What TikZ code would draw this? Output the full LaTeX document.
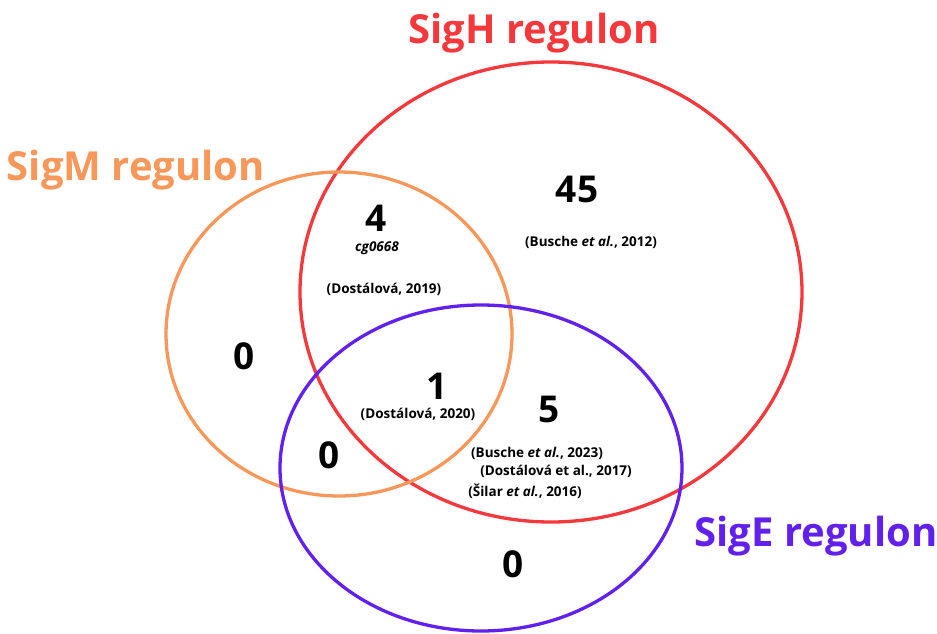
\documentclass[tikz,border=0pt]{standalone}
\usepackage{fontspec}
\setmainfont{Open Sans}
\usepackage{tikz}
\usetikzlibrary{positioning}

\definecolor{sigHred}{HTML}{F5383B}
\definecolor{sigMorange}{HTML}{F7985A}
\definecolor{sigEpurple}{HTML}{6120EC}

\begin{document}
\begin{tikzpicture}[
    x=1pt, y=-1pt,
    ring/.style={line width=3.3pt},
    title/.style={font=\fontsize{40}{42}\selectfont\bfseries},
    count/.style={font=\fontsize{37}{39}\selectfont\bfseries},
    ref/.style={font=\fontsize{13.5}{15}\selectfont\bfseries, inner sep=1pt},
  ]
  \useasboundingbox (0,0) rectangle (937,634);

  % --- Regulon circles ---
  \draw[ring, sigHred] (551,292) ellipse [x radius=251, y radius=230];
  \draw[ring, sigMorange] (339,334) ellipse [x radius=173, y radius=162];
  \draw[ring, sigEpurple] (481,468) ellipse [x radius=201, y radius=163];

  % --- Titles ---
  \node[title, text=sigHred] (hTitle) at (534,33) {SigH regulon};
  \node[title, text=sigMorange] (mTitle) at (136,170) {SigM regulon};
  \node[title, text=sigEpurple] (eTitle) at (816,536) {SigE regulon};

  % --- SigH only ---
  \node[count] (hOnly) at (577,189) {45};
  \node[ref] (hRef) at (591,242) {(Busche \textit{et al.}, 2012)};

  % --- SigM and SigH ---
  \node[count] (mhCount) at (376,218) {4};
  \node[ref, font=\fontsize{13.5}{15}\selectfont\bfseries\itshape] (mhGene) at (377,248) {cg0668};
  \node[ref] (mhRef) at (384,289) {(Dostálová, 2019)};

  % --- SigM only ---
  \node[count] (mOnly) at (244,356) {0};

  % --- all three ---
  \node[count] (allCount) at (437,386) {1};
  \node[ref] (allRef) at (418,414) {(Dostálová, 2020)};

  % --- SigH and SigE ---
  \node[count] (heCount) at (549,409) {5};
  \node[ref] (heRefA) at (537,453) {(Busche \textit{et al.}, 2023)};
  \node[ref] (heRefB) at (556,471) {(Dostálová et al., 2017)};
  \node[ref] (heRefC) at (525,491) {(Šilar \textit{et al.}, 2016)};

  % --- SigM and SigE ---
  \node[count] (meCount) at (329,455) {0};

  % --- SigE only ---
  \node[count] (eOnly) at (513,564) {0};
\end{tikzpicture}
\end{document}
